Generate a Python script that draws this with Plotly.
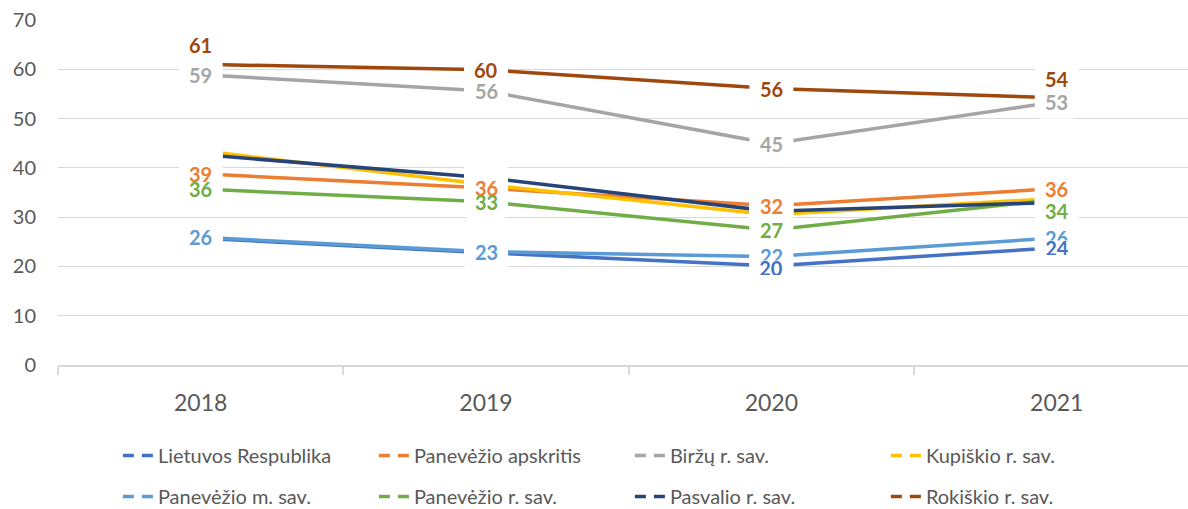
import plotly.graph_objects as go

years = ["2018", "2019", "2020", "2021"]
series_names = [
    "Lietuvos Respublika", "Panevėžio apskritis", "Biržų r. sav.", "Kupiškio r. sav.",
    "Panevėžio m. sav.", "Panevėžio r. sav.", "Pasvalio r. sav.", "Rokiškio r. sav.",
]
lietuvos = [25.7, 22.8, 20.1, 23.8]
apskritis = [38.8, 35.9, 32.3, 35.8]
birzai = [58.9, 55.6, 44.9, 53.4]
kupiskis = [43.5, 36.6, 30.5, 33.8]
panevezio_m = [25.9, 23.0, 22.0, 25.8]
panevezio_r = [35.7, 33.1, 27.4, 33.6]
pasvalys = [42.7, 38.0, 31.2, 33.0]
rokiskis = [61.0, 59.9, 56.1, 54.2]
values = [lietuvos, apskritis, birzai, kupiskis, panevezio_m, panevezio_r, pasvalys, rokiskis]
y_ticks = [0, 10, 20, 30, 40, 50, 60, 70]

# styling (kept separate from data)
colors = ["#4472C4", "#ED7D31", "#A5A5A5", "#FFC000", "#5B9BD5", "#70AD47", "#264478", "#9E480E"]
show_label = [
    [False, False, True, True],
    [True, True, True, True],
    [True, True, True, True],
    [False, False, False, False],
    [True, True, True, True],
    [True, True, True, True],
    [False, False, False, False],
    [True, True, True, True],
]
label_shift = {(7, 0): 19, (7, 3): 19, (5, 3): -12, (0, 2): -2, (4, 2): 1}
on_top_series = [0]
FONT = "Lato"
GREY = "#595959"

fig = go.Figure()
for i, name in enumerate(series_names):
    fig.add_trace(go.Scatter(
        x=years, y=values[i], mode="lines", name=name,
        line=dict(color=colors[i], width=3.5), showlegend=False, hoverinfo="skip",
    ))
for i, name in enumerate(series_names):
    fig.add_trace(go.Scatter(
        x=[None], y=[None], mode="lines", name=name,
        line=dict(color=colors[i], width=3.5, dash="11px,8px"),
        legend="legend" if i < 4 else "legend2",
    ))


def rounded_box(hw, hh, r, sh):
    t, b = hh + sh, -hh + sh
    return (f"M {-hw + r},{b} L {hw - r},{b} Q {hw},{b} {hw},{b + r} L {hw},{t - r} "
            f"Q {hw},{t} {hw - r},{t} L {-hw + r},{t} Q {-hw},{t} {-hw},{t - r} "
            f"L {-hw},{b + r} Q {-hw},{b} {-hw + r},{b} Z")


shapes = []
for i in range(len(series_names)):
    for j, yr in enumerate(years):
        sh = label_shift.get((i, j), 0)
        shapes.append(dict(
            type="path", xref="x", yref="y", xsizemode="pixel", ysizemode="pixel",
            xanchor=j, yanchor=values[i][j], path=rounded_box(22, 17, 7, sh),
            fillcolor="white", line=dict(width=0), layer="above",
        ))

annotations = []
order = [i for i in range(len(series_names)) if i not in on_top_series] + on_top_series
for i in order:
    for j, yr in enumerate(years):
        if not show_label[i][j]:
            continue
        ann = dict(
            x=j, y=values[i][j], xref="x", yref="y", text=f"{round(values[i][j])}",
            showarrow=False, yshift=label_shift.get((i, j), 0),
            font=dict(family=FONT, size=20, color=colors[i], weight="bold"),
            borderpad=0,
        )
        if i in on_top_series:
            ann["bgcolor"] = "white"
            ann["height"] = 14
            ann["width"] = 28
        annotations.append(ann)

fig.update_layout(
    width=1188, height=509,
    margin=dict(l=58, r=0, t=20, b=144, autoexpand=False),
    paper_bgcolor="white", plot_bgcolor="white",
    font=dict(family=FONT, color=GREY, size=20),
    shapes=shapes, annotations=annotations,
    xaxis=dict(
        type="category", range=[-0.5, 3.46], tickson="boundaries",
        ticks="outside", ticklen=8, tickcolor="#D9D9D9", tickwidth=1.5,
        showline=True, linecolor="#D9D9D9", linewidth=1.5,
        showgrid=False, tickfont=dict(size=23, color=GREY), ticklabelstandoff=17,
    ),
    yaxis=dict(
        range=[0, 70], tickvals=y_ticks, showgrid=True, gridcolor="#D9D9D9", gridwidth=1.3,
        zeroline=False, showline=False, tickfont=dict(size=20, color=GREY),
        ticklabelstandoff=21,
    ),
    legend=dict(
        orientation="h", x=0.053, xanchor="left", y=-0.262, yanchor="middle",
        entrywidth=211, entrywidthmode="pixels", font=dict(size=20, color=GREY),
        bgcolor="rgba(0,0,0,0)",
    ),
    legend2=dict(
        orientation="h", x=0.053, xanchor="left", y=-0.381, yanchor="middle",
        entrywidth=211, entrywidthmode="pixels", font=dict(size=20, color=GREY),
        bgcolor="rgba(0,0,0,0)",
    ),
)

fig.write_html(
    "out.html",
    config={"displayModeBar": False},
    post_script="document.body.style.margin='0';document.body.style.overflow='hidden';",
)
